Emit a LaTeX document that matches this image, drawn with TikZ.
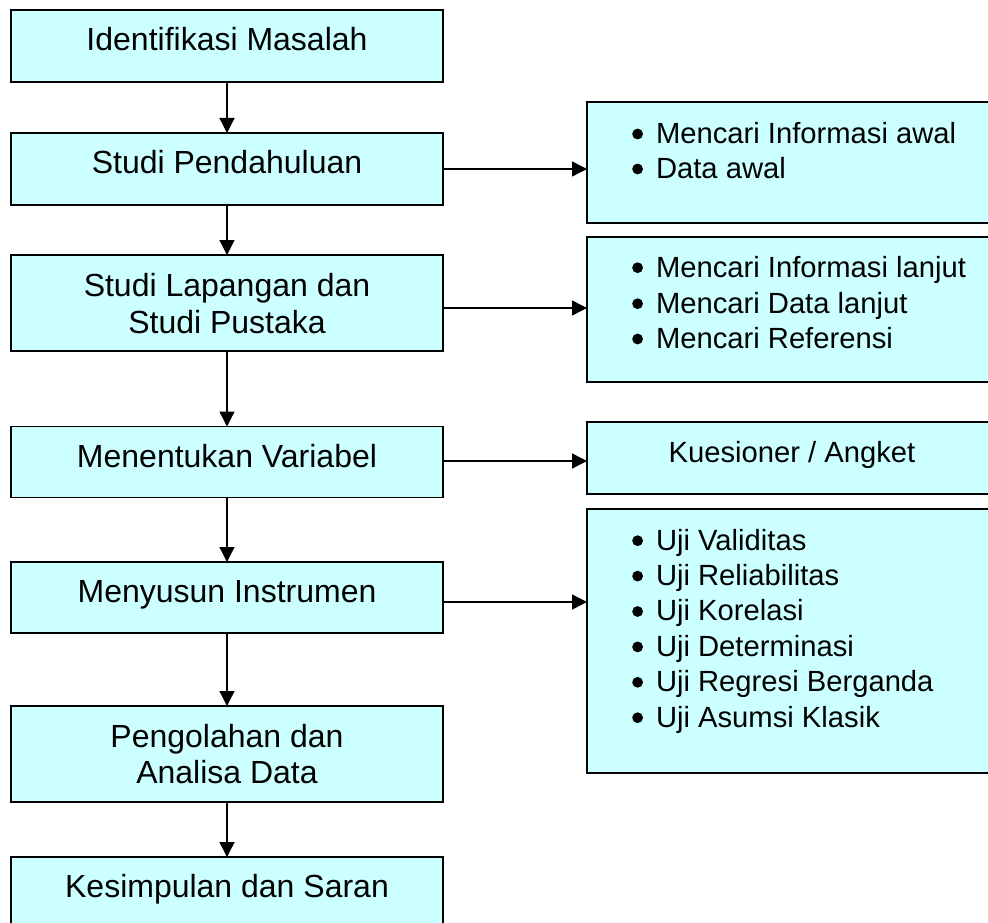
\documentclass[tikz,border=0pt]{standalone}
\usepackage{fontspec}
\setmainfont{Liberation Sans}
\usetikzlibrary{arrows.meta}
\definecolor{boxfill}{HTML}{CCFFFF}
\newcommand\mybul{\tikz[baseline=0pt]\fill[black] (5.4pt,9.3pt) circle (5.4pt);\hspace{13pt}}
\begin{document}
\begin{tikzpicture}[x=1pt,y=-1pt,
  box/.style={draw=black,line width=1.5pt,fill=boxfill,minimum width=432pt,inner sep=0pt,outer sep=0pt},
  rbox/.style={box,minimum width=413pt},
  lt/.style={anchor=base,inner sep=0pt,font=\fontsize{32}{36}\selectfont},
  rt/.style={anchor=base west,inner sep=0pt,font=\fontsize{29.2}{35}\selectfont},
  ct/.style={anchor=base,inner sep=0pt,font=\fontsize{29.2}{35}\selectfont},
  arr/.style={line width=1.4pt,-{Triangle[length=15pt,width=15pt]}}]
\clip (0,0) rectangle (988,923);
\fill[white] (0,0) rectangle (988,923);

% left column boxes
\node[box,minimum height=72pt] (b1) at (227,46) {};
\node[box,minimum height=72pt] (b2) at (227,169) {};
\node[box,minimum height=96pt] (b3) at (227,303) {};
\node[box,minimum height=71pt] (b4) at (227,462) {};
\node[box,minimum height=71pt] (b5) at (227,597.5) {};
\node[box,minimum height=96pt] (b6) at (227,754) {};
\node[box,minimum height=72pt] (b7) at (227,893) {};

\node[lt] (t1) at (227,51) {Identifikasi Masalah};
\node[lt] (t2) at (227,174) {Studi Pendahuluan};
\node[lt] (t3a) at (227,296) {Studi Lapangan dan};
\node[lt] (t3b) at (227,333) {Studi Pustaka};
\node[lt] (t4) at (227,467) {Menentukan Variabel};
\node[lt] (t5) at (227,602) {Menyusun Instrumen};
\node[lt] (t6a) at (227,747) {Pengolahan dan};
\node[lt] (t6b) at (227,783) {Analisa Data};
\node[lt] (t7) at (227,897) {Kesimpulan dan Saran};

% right column boxes
\node[rbox,minimum height=121pt] (r1) at (793.5,162.5) {};
\node[rbox,minimum height=145pt] (r2) at (793.5,309.5) {};
\node[rbox,minimum height=72pt] (r3) at (793.5,458) {};
\node[rbox,minimum height=264pt] (r4) at (793.5,641) {};

\node[rt] (s1a) at (632,143.3) {\mybul Mencari Informasi awal};
\node[rt] (s1b) at (632,178.3) {\mybul Data awal};
\node[rt] (s2a) at (632,277) {\mybul Mencari Informasi lanjut};
\node[rt] (s2b) at (632,313) {\mybul Mencari Data lanjut};
\node[rt] (s2c) at (632,348.3) {\mybul Mencari Referensi};
\node[ct] (s3) at (792,462) {Kuesioner / Angket};
\node[rt] (s4a) at (632,550) {\mybul Uji Validitas};
\node[rt] (s4b) at (632,585.4) {\mybul Uji Reliabilitas};
\node[rt] (s4c) at (632,620.8) {\mybul Uji Korelasi};
\node[rt] (s4d) at (632,656.2) {\mybul Uji Determinasi};
\node[rt] (s4e) at (632,691.6) {\mybul Uji Regresi Berganda};
\node[rt] (s4f) at (632,727) {\mybul Uji Asumsi Klasik};

% vertical arrows
\draw[arr] (b1.south) -- (b2.north);
\draw[arr] (b2.south) -- (b3.north);
\draw[arr] (b3.south) -- (b4.north);
\draw[arr] (b4.south) -- (b5.north);
\draw[arr] (b5.south) -- (b6.north);
\draw[arr] (b6.south) -- (b7.north);

% horizontal arrows
\coordinate (h1) at (b2.east);
\coordinate (h2) at ([yshift=-5pt]b3.east);
\coordinate (h3) at ([yshift=1pt]b4.east);
\coordinate (h4) at ([yshift=-4.5pt]b5.east);
\draw[arr] (h1) -- (r1.west |- h1);
\draw[arr] (h2) -- (r2.west |- h2);
\draw[arr] (h3) -- (r3.west |- h3);
\draw[arr] (h4) -- (r4.west |- h4);
\end{tikzpicture}
\end{document}
